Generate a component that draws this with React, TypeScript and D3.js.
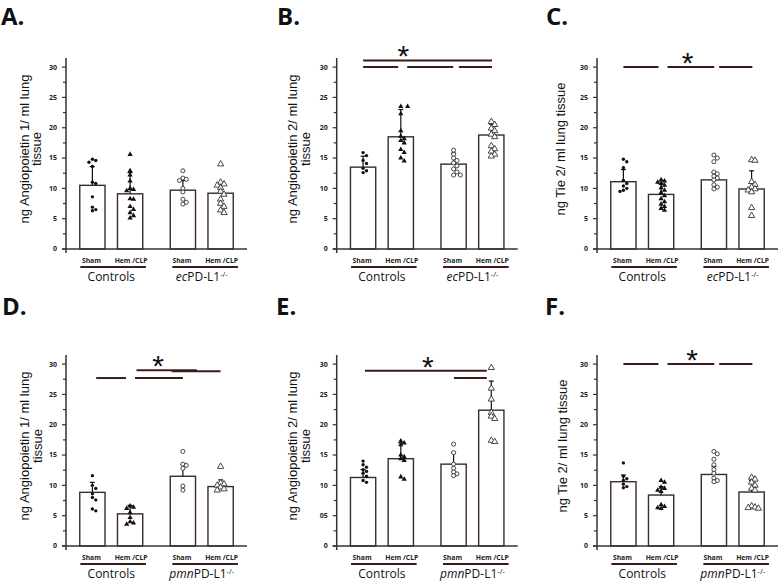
import React from "react";
import * as d3 from "d3";

const W = 779;
const H = 581;

// x positions of the four bars, in slot units (a wider gap between genotypes)
const slots = [0, 1, 2.4, 3.4];
const groupLabels = ["Sham", "Hem /CLP", "Sham", "Hem /CLP"];
const yTicks = ["0", "5", "10", "15", "20", "25", "30"];
const yTicksE = ["0", "05", "10", "15", "20", "25", "30"];

// A. Angiopoietin 1, ecPD-L1
const ang1EcMean = [10.5, 9.1, 9.7, 9.2];
const ang1EcUpper = [13.6, 12.6, 11.3, 10.8];
const ang1EcPts = [
  [14.8, 14.6, 14.3, 13.6, 11.0, 10.8, 8.6, 6.9, 6.5, 6.3],
  [15.6, 12.9, 12.2, 11.2, 10.0, 9.8, 9.6, 8.3, 8.2, 7.0, 6.5, 6.0, 5.5, 5.1],
  [12.9, 11.7, 11.5, 11.3, 10.0, 9.4, 8.2, 7.7, 7.4],
  [14.0, 11.0, 10.7, 10.5, 10.1, 9.5, 9.0, 8.2, 7.5, 7.0, 6.4, 6.0],
];

// B. Angiopoietin 2, ecPD-L1
const ang2EcMean = [13.5, 18.5, 14.0, 18.8];
const ang2EcUpper = [15.3, 23.0, 15.8, 20.6];
const ang2EcPts = [
  [15.9, 15.4, 14.6, 14.1, 13.3, 12.9, 12.6],
  [23.5, 23.5, 22.3, 19.5, 18.6, 18.2, 17.9, 17.5, 16.4, 15.9, 15.0, 14.5],
  [16.3, 15.6, 15.0, 14.6, 14.2, 13.7, 13.2, 12.7, 12.2, 12.2],
  [21.0, 20.5, 19.9, 19.5, 18.9, 18.5, 17.0, 16.5, 16.1, 15.6, 15.3],
];

// C. Tie 2, ecPD-L1
const tie2EcMean = [11.1, 9.0, 11.4, 9.9];
const tie2EcUpper = [13.1, 10.8, 12.6, 12.9];
const tie2EcPts = [
  [14.8, 14.4, 13.4, 11.3, 10.8, 10.4, 10.0, 9.7, 9.5],
  [11.4, 11.2, 11.0, 10.8, 10.5, 10.1, 9.7, 9.3, 8.8, 8.3, 7.8, 7.4, 7.0, 6.7, 6.4],
  [15.5, 15.0, 14.4, 12.7, 12.4, 12.0, 11.7, 11.4, 10.6, 10.2, 9.9],
  [14.7, 14.6, 11.1, 10.6, 10.2, 9.9, 9.7, 9.4, 6.8, 5.5],
];

// D. Angiopoietin 1, pmnPD-L1
const ang1PmnMean = [8.85, 5.3, 11.5, 9.8];
const ang1PmnUpper = [10.5, 6.7, 13.4, 10.9];
const ang1PmnPts = [
  [11.6, 10.0, 9.5, 8.6, 8.0, 7.6, 6.1, 5.8],
  [6.6, 6.4, 6.2, 5.5, 4.7, 4.0, 3.8, 3.6],
  [15.6, 13.5, 13.3, 12.8, 9.9, 9.2],
  [13.1, 10.4, 10.2, 10.0, 9.7, 9.4, 9.2],
];

// E. Angiopoietin 2, pmnPD-L1
const ang2PmnMean = [11.3, 14.4, 13.5, 22.4];
const ang2PmnUpper = [12.6, 17.0, 15.4, 27.2];
const ang2PmnPts = [
  [14.0, 13.4, 13.0, 12.6, 12.3, 12.0, 11.5, 10.8, 10.5],
  [17.3, 17.0, 16.7, 15.0, 14.7, 14.4, 14.1, 11.4, 11.0],
  [16.8, 15.4, 13.5, 12.8, 12.2, 11.9, 11.6],
  [29.4, 26.0, 24.2, 22.0, 21.4, 21.0, 17.4, 17.2],
];

// F. Tie 2, pmnPD-L1
const tie2PmnMean = [10.6, 8.4, 11.8, 8.9];
const tie2PmnUpper = [11.7, 9.8, 13.1, 10.8];
const tie2PmnPts = [
  [13.7, 11.5, 11.1, 10.8, 10.2, 9.8, 9.6],
  [10.8, 10.5, 9.7, 9.5, 9.2, 9.0, 6.8, 6.5, 6.3, 6.2],
  [15.6, 15.2, 14.3, 13.4, 12.6, 12.0, 11.2, 10.8, 10.6],
  [11.3, 11.0, 10.5, 10.0, 9.5, 9.2, 6.6, 6.4, 6.3, 6.2],
];

// significance brackets: [level, from slot, to slot]
type Sig = [number, number, number];
const sigB: Sig[] = [[31.1, 0, 3.42], [30, 0, 0.93], [30, 1.17, 2.39], [30, 2.54, 3.42]];
const sigC: Sig[] = [[30, 0, 0.93], [30, 1.17, 2.41], [30, 2.54, 3.42]];
const sigD: Sig[] = [[27.7, 0.1, 0.89], [27.7, 1.13, 2.4], [29.0, 1.17, 2.77], [28.8, 2.1, 3.4]];
const sigE: Sig[] = [[28.9, 0.05, 3.28], [27.7, 2.41, 3.28]];
const sigF: Sig[] = [[30, 0, 0.93], [30, 1.17, 2.41], [30, 2.54, 3.42]];

const INK = "#3a1c1c";
const AXIS = "#333";

const dotPath = d3.symbol().type(d3.symbolCircle).size(9)()!;
const triPath = d3.symbol().type(d3.symbolTriangle).size(12)()!;
const ringPath = d3.symbol().type(d3.symbolCircle).size(13)()!;
const openTriPath = d3.symbol().type(d3.symbolTriangle).size(17)()!;

function dodge(vals: number[], y: d3.ScaleLinear<number, number>, cx: number, step: number) {
  const placed: { x: number; y: number }[] = [];
  [...vals].sort((a, b) => b - a).forEach((v) => {
    const py = y(v);
    const offs = [0, step, -step, 2 * step, -2 * step, 3 * step, -3 * step];
    let px = cx;
    for (const o of offs) {
      if (placed.every((p) => Math.hypot(p.x - (cx + o), p.y - py) >= step)) {
        px = cx + o;
        break;
      }
    }
    placed.push({ x: px, y: py });
  });
  return placed;
}

type PanelProps = {
  letter: string;
  letterX: number;
  axisX: number;
  zeroY: number;
  yLabel: string[];
  labelDx: number[];
  ticks: string[];
  mean: number[];
  upper: number[];
  pts: number[][];
  sigs: Sig[];
  starAt: [number, number] | null;
  ko: string;
};

function Panel(p: PanelProps) {
  const x = d3.scaleLinear().domain([-0.7, 4.1]).range([p.axisX, p.axisX + 181]);
  const y = d3.scaleLinear().domain([0, 31.5]).range([p.zeroY, p.zeroY - 191]);
  const half = 0.335;
  const letterY = p.zeroY < 300 ? 25 : 315;
  const labelCy = p.zeroY - 100;
  const minor = d3.range(0, 30.01, 2.5);

  return (
    <g>
      <text x={p.letterX} y={letterY} fontFamily="'Open Sans', sans-serif" fontWeight={700} fontSize={24} fill="#111">
        {p.letter}
      </text>

      {p.yLabel.map((t, i) => (
        <text
          key={i}
          transform={`translate(${p.axisX + p.labelDx[i]},${labelCy}) rotate(-90)`}
          textAnchor="middle"
          dominantBaseline="middle"
          fontFamily="'Liberation Sans', Arial, sans-serif"
          fontSize={13}
          fill="#111"
        >
          {t}
        </text>
      ))}

      {/* bars */}
      {p.mean.map((m, i) => (
        <rect
          key={i}
          x={x(slots[i] - half)}
          y={y(m)}
          width={x(slots[i] + half) - x(slots[i] - half)}
          height={y(0) - y(m)}
          fill="#fff"
          stroke="#3d2a2a"
          strokeWidth={1.4}
        />
      ))}

      {/* upper error bars */}
      {p.upper.map((u, i) => (
        <g key={i} stroke="#111" strokeWidth={1.2}>
          <line x1={x(slots[i])} x2={x(slots[i])} y1={y(p.mean[i])} y2={y(u)} />
          <line x1={x(slots[i]) - 2.5} x2={x(slots[i]) + 2.5} y1={y(u)} y2={y(u)} />
        </g>
      ))}

      {/* individual animals */}
      {p.pts.map((vals, i) =>
        dodge(vals, y, x(slots[i]), 3.4).map((pt, j) => {
          const d = [dotPath, triPath, ringPath, openTriPath][i];
          const open = i >= 2;
          return (
            <path
              key={`${i}-${j}`}
              d={d}
              transform={`translate(${pt.x},${pt.y})`}
              fill={open ? "#fff" : "#111"}
              stroke={open ? "#333" : "none"}
              strokeWidth={open ? 0.9 : 0}
            />
          );
        })
      )}

      {/* axes */}
      <line x1={p.axisX - 4} x2={p.axisX + 181} y1={y(0)} y2={y(0)} stroke={AXIS} strokeWidth={1.5} />
      <line x1={p.axisX} x2={p.axisX} y1={y(0) + 4} y2={y(31.5)} stroke={AXIS} strokeWidth={1.5} />
      {minor.map((v, i) => (
        <line key={i} x1={p.axisX - (i % 2 === 0 ? 4 : 3)} x2={p.axisX} y1={y(v)} y2={y(v)} stroke={AXIS} strokeWidth={1.2} />
      ))}
      {p.ticks.map((t, i) => (
        <text
          key={t}
          x={p.axisX - 9}
          y={y(i * 5)}
          dy="0.35em"
          textAnchor="end"
          fontFamily="'Open Sans', sans-serif"
          fontWeight={700}
          fontSize={7}
          fill="#222"
        >
          {t}
        </text>
      ))}

      {/* category labels and genotype brackets */}
      {groupLabels.map((t, i) => (
        <text
          key={i}
          x={x(slots[i]) + (i % 2 ? 1 : -1)}
          y={p.zeroY + 14}
          textAnchor="middle"
          fontFamily="'Open Sans', sans-serif"
          fontWeight={700}
          fontSize={6.8}
          fill="#222"
        >
          {t}
        </text>
      ))}
      <line x1={x(-0.32)} x2={x(1.42)} y1={p.zeroY + 18} y2={p.zeroY + 18} stroke={INK} strokeWidth={2} />
      <line x1={x(2.12)} x2={x(3.86)} y1={p.zeroY + 18} y2={p.zeroY + 18} stroke={INK} strokeWidth={2} />
      <text x={x(0.5)} y={p.zeroY + 32} textAnchor="middle" fontFamily="'Open Sans', sans-serif" fontSize={12} fill="#111">
        Controls
      </text>
      <text x={x(2.9)} y={p.zeroY + 32} textAnchor="middle" fontFamily="'Open Sans', sans-serif" fontSize={12} fill="#111">
        <tspan fontStyle="italic">{p.ko}</tspan>
        <tspan>PD-L1</tspan>
        <tspan dy={-4} fontSize={7.5}>-/-</tspan>
      </text>

      {/* significance */}
      {p.sigs.map(([v, a, b], i) => (
        <line key={i} x1={x(a)} x2={x(b)} y1={y(v)} y2={y(v)} stroke={INK} strokeWidth={2} />
      ))}
      {p.starAt && (
        <text
          x={x(p.starAt[0])}
          y={y(p.starAt[1]) + 6}
          textAnchor="middle"
          fontFamily="'Liberation Sans', Arial, sans-serif"
          fontSize={30}
          fill="#111"
        >
          *
        </text>
      )}
    </g>
  );
}

export default function App() {
  const ang1Label = ["ng Angiopoietin 1/ ml lung", "tissue"];
  const ang2Label = ["ng Angiopoietin 2/ ml lung", "tissue"];
  const tieLabel = ["ng Tie 2/ ml lung tissue"];
  return (
    <svg width={W} height={H} style={{ position: "absolute", left: 0, top: 0, background: "#fff" }}>
      <Panel letter="A." letterX={1} axisX={66} zeroY={249} yLabel={ang1Label} labelDx={[-40, -28]} ticks={yTicks}
        mean={ang1EcMean} upper={ang1EcUpper} pts={ang1EcPts} sigs={[]} starAt={null} ko="ec" />
      <Panel letter="B." letterX={277} axisX={336.7} zeroY={249} yLabel={ang2Label} labelDx={[-43, -30]} ticks={yTicks}
        mean={ang2EcMean} upper={ang2EcUpper} pts={ang2EcPts} sigs={sigB} starAt={[1.07, 31.1]} ko="ec" />
      <Panel letter="C." letterX={546} axisX={597} zeroY={249} yLabel={tieLabel} labelDx={[-35]} ticks={yTicks}
        mean={tie2EcMean} upper={tie2EcUpper} pts={tie2EcPts} sigs={sigC} starAt={[1.7, 30]} ko="ec" />
      <Panel letter="D." letterX={2} axisX={66} zeroY={546} yLabel={ang1Label} labelDx={[-40, -27]} ticks={yTicks}
        mean={ang1PmnMean} upper={ang1PmnUpper} pts={ang1PmnPts} sigs={sigD} starAt={[1.74, 29.0]} ko="pmn" />
      <Panel letter="E." letterX={276} axisX={336.7} zeroY={546} yLabel={ang2Label} labelDx={[-43, -30]} ticks={yTicksE}
        mean={ang2PmnMean} upper={ang2PmnUpper} pts={ang2PmnPts} sigs={sigE} starAt={[1.72, 28.9]} ko="pmn" />
      <Panel letter="F." letterX={545} axisX={597} zeroY={546} yLabel={tieLabel} labelDx={[-33]} ticks={yTicks}
        mean={tie2PmnMean} upper={tie2PmnUpper} pts={tie2PmnPts} sigs={sigF} starAt={[1.82, 30]} ko="pmn" />
    </svg>
  );
}
